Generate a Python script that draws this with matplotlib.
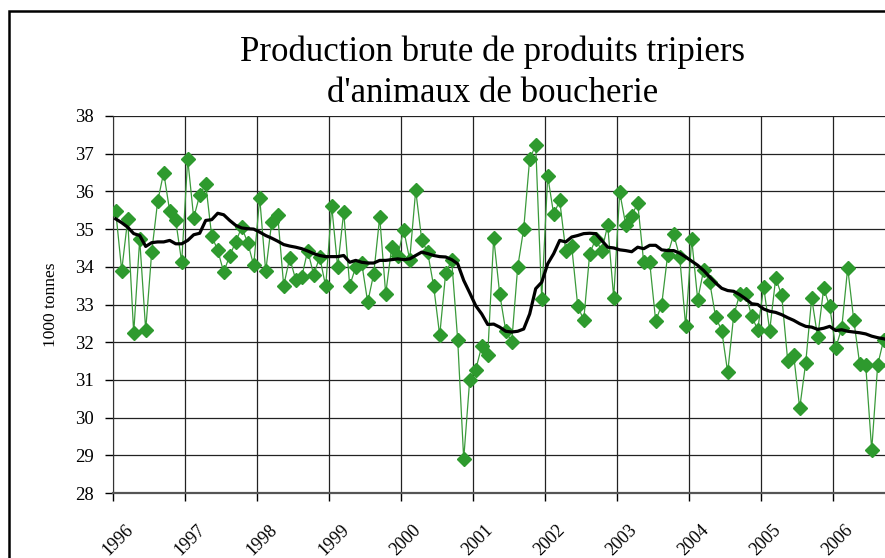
import numpy as np
import matplotlib
matplotlib.use('Agg')
import matplotlib.pyplot as plt
import matplotlib.transforms as mtransforms
from matplotlib.patches import Rectangle

# --- Data (monthly, Jan 1996 onwards) ---
years = ['1996', '1997', '1998', '1999', '2000', '2001',
         '2002', '2003', '2004', '2005', '2006']

production = [
    35.48, 33.90, 35.26, 32.24, 34.73, 32.32, 34.39, 35.74, 36.50, 35.48, 35.23, 34.12,  # 1996
    36.86, 35.30, 35.90, 36.20, 34.82, 34.44, 33.86, 34.29, 34.66, 35.05, 34.64, 34.04,  # 1997
    35.83, 33.88, 35.18, 35.37, 33.50, 34.23, 33.66, 33.73, 34.43, 33.79, 34.26, 33.48,  # 1998
    35.61, 33.99, 35.45, 33.50, 33.99, 34.10, 33.06, 33.81, 35.32, 33.28, 34.52, 34.28,  # 1999
    34.98, 34.19, 36.03, 34.72, 34.38, 33.48, 32.18, 33.84, 34.17, 32.06, 28.90, 31.00,  # 2000
    31.27, 31.89, 31.65, 34.77, 33.28, 32.31, 32.00, 33.99, 35.01, 36.87, 37.22, 33.15,  # 2001
    36.41, 35.39, 35.76, 34.43, 34.55, 32.97, 32.58, 34.35, 34.74, 34.42, 35.10, 33.18,  # 2002
    35.98, 35.12, 35.36, 35.69, 34.12, 34.12, 32.56, 33.00, 34.32, 34.86, 34.26, 32.42,  # 2003
    34.74, 33.13, 33.92, 33.59, 32.66, 32.31, 31.20, 32.71, 33.27, 33.27, 32.69, 32.33,  # 2004
    33.46, 32.31, 33.70, 33.24, 31.51, 31.65, 30.25, 31.45, 33.17, 32.13, 33.43, 32.95,  # 2005
    31.85, 32.37, 33.97, 32.60, 31.42, 31.40, 29.14, 31.40, 32.07, 31.40,                # 2006
]

moving_avg = [
    35.27, 35.17, 35.05, 34.88, 34.83, 34.54, 34.64, 34.66, 34.66, 34.70, 34.61, 34.61,
    34.70, 34.85, 34.89, 35.23, 35.25, 35.42, 35.38, 35.23, 35.10, 35.03, 35.01, 35.00,
    34.92, 34.83, 34.76, 34.68, 34.59, 34.55, 34.52, 34.48, 34.42, 34.35, 34.30, 34.27,
    34.27, 34.27, 34.30, 34.12, 34.17, 34.12, 34.10, 34.10, 34.17, 34.17, 34.19, 34.21,
    34.19, 34.21, 34.30, 34.39, 34.35, 34.30, 34.27, 34.26, 34.19, 34.08, 33.64, 33.31,
    32.97, 32.75, 32.47, 32.48, 32.40, 32.29, 32.27, 32.29, 32.35, 32.75, 33.42, 33.59,
    34.08, 34.35, 34.70, 34.66, 34.79, 34.83, 34.88, 34.89, 34.88, 34.70, 34.52, 34.50,
    34.45, 34.43, 34.40, 34.52, 34.48, 34.57, 34.57, 34.45, 34.43, 34.43, 34.36, 34.26,
    34.15, 34.04, 33.90, 33.73, 33.57, 33.43, 33.37, 33.35, 33.26, 33.15, 33.02, 33.00,
    32.88, 32.82, 32.79, 32.73, 32.65, 32.58, 32.49, 32.42, 32.40, 32.34, 32.37, 32.42,
    32.31, 32.33, 32.29, 32.27, 32.25, 32.22, 32.16, 32.12, 32.09, 32.05,
]

SERIF = 'Liberation Serif'
W, H = 885, 558

fig = plt.figure(figsize=(W / 100, H / 100), dpi=100)
fig.patch.set_facecolor('white')

# outer chart frame (cut off on the right and bottom like the source)
fig.patches.append(Rectangle((9 / W, -0.1), 1.2, (H - 11) / H + 0.1,
                             transform=fig.transFigure, fill=False,
                             edgecolor='black', linewidth=1.8))

# plot area: 6 px per month, extends past the right edge
ax = fig.add_axes([112.7 / W, 65 / H, 792 / W, 377 / H])

x = np.arange(len(production)) + 0.5
ax.plot(x, production, color='#3a9a3a', linewidth=0.9, marker='D',
        markersize=6.8, markerfacecolor='#2e9a2e', markeredgecolor='#2e9a2e',
        zorder=3)
ax.plot(x, moving_avg, color='black', linewidth=2.3, zorder=4)

ax.set_xlim(0, 132)
ax.set_ylim(28, 38)
ax.set_yticks(range(28, 39))
ax.set_xticks(np.arange(len(years)) * 12)
ax.set_xticklabels(years, rotation=45, ha='center', va='top')

ax.grid(True, color='#222222', linewidth=0.9)
ax.set_axisbelow(True)

for side in ['top', 'right']:
    ax.spines[side].set_visible(False)
ax.spines['left'].set_color('#333333')
ax.spines['bottom'].set_color('#555555')
ax.spines['bottom'].set_linewidth(1.6)

ax.tick_params(axis='y', length=5.5, width=1, pad=8, labelsize=13.5)
ax.tick_params(axis='x', length=5.5, width=1, pad=15, labelsize=13)

# nudge the rotated year labels a little to the right
shift = mtransforms.ScaledTranslation(5 / 100, 0, fig.dpi_scale_trans)
for lab in ax.get_xticklabels():
    lab.set_family(SERIF)
    lab.set_transform(lab.get_transform() + shift)
for lab in ax.get_yticklabels():
    lab.set_family(SERIF)

ax.set_ylabel('1000 tonnes', family=SERIF, fontsize=12.5, labelpad=12)

fig.text(493 / W, (H - 61) / H, 'Production brute de produits tripiers',
         family=SERIF, fontsize=25, ha='center', va='baseline')
fig.text(493 / W, (H - 102) / H, "d'animaux de boucherie",
         family=SERIF, fontsize=25, ha='center', va='baseline')

fig.savefig('out.png', dpi=100)
